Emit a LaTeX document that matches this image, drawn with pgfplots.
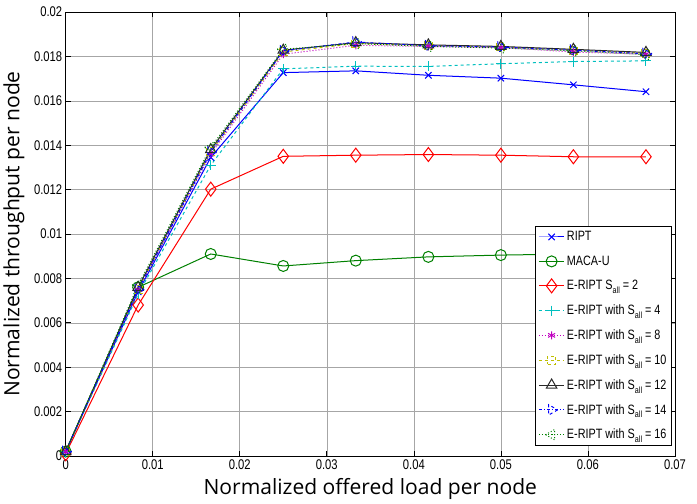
\documentclass[border=0pt]{standalone}
\usepackage{pgfplots}
\pgfplotsset{compat=1.18}
\usepackage{fontspec}
\setmainfont{Open Sans}
\newfontfamily\narrow[FakeStretch=0.8]{Liberation Sans}
\definecolor{mblue}{RGB}{0,0,255}
\definecolor{mgreen}{RGB}{0,128,0}
\definecolor{mred}{RGB}{255,0,0}
\definecolor{mcyan}{RGB}{0,191,191}
\definecolor{mmag}{RGB}{191,0,191}
\definecolor{myel}{RGB}{191,191,0}
\definecolor{mblack}{RGB}{40,40,40}
\newcommand{\sall}{S\raisebox{-0.55ex}{\fontsize{9}{9}\selectfont all}}
\begin{document}
\begin{tikzpicture}
\begin{axis}[
  scale only axis,width=608pt,height=443pt,
  xmin=0,xmax=0.07,ymin=0,ymax=0.02,
  xtick={0,0.01,...,0.07},ytick={0,0.002,...,0.02},
  scaled ticks=false,
  /pgf/number format/fixed,/pgf/number format/precision=3,
  /pgf/number format/assume math mode=true,
  tick label style={font=\narrow\fontsize{14}{16}\selectfont},
  tick align=inside,tick style={black,line width=0.6pt},major tick length=5pt,
  xtick pos=both,ytick pos=both,
  grid=major,grid style={gray!70,line width=0.5pt},
  axis line style={black,line width=0.8pt},
  xlabel={Normalized offered load per node},
  ylabel={Normalized throughput per node},
  label style={font=\fontsize{21}{24}\selectfont},
  xlabel style={at={(axis description cs:0.5,-0.075)},anchor=center},
  ylabel style={at={(axis description cs:-0.085,0.5)},anchor=center},
  legend style={at={(0.995,0.023)},anchor=south east,draw=black,line width=0.8pt,
    fill=white,font=\narrow\fontsize{13.5}{15}\selectfont,
    row sep=9.5pt,inner sep=3pt},
  legend cell align=left,
  legend image code/.code={\draw[mark repeat=2,mark phase=2] plot coordinates {(0cm,0cm)(0.45cm,0cm)(0.9cm,0cm)};},
  every axis plot/.append style={line width=1pt},
]
\addplot[mblue,mark=x,mark size=4.5pt] coordinates {(0,0.0002)(0.00833,0.0074)(0.01667,0.01345)(0.025,0.01727)(0.03333,0.01735)(0.04167,0.01715)(0.05,0.01702)(0.05833,0.01672)(0.06667,0.01641)};
\addplot[mgreen,mark=o,mark size=5.5pt] coordinates {(0,0.0002)(0.00833,0.0076)(0.01667,0.0091)(0.025,0.00856)(0.03333,0.0088)(0.04167,0.00897)(0.05,0.00905)(0.05833,0.0091)(0.06667,0.0092)};
\addplot[mred,mark=diamond,mark size=7pt] coordinates {(0,0.0001)(0.00833,0.0068)(0.01667,0.01202)(0.025,0.0135)(0.03333,0.01355)(0.04167,0.01358)(0.05,0.01355)(0.05833,0.01348)(0.06667,0.01348)};
\addplot[mcyan,dashed,mark=+,mark size=5pt,mark options={solid}] coordinates {(0,0.0002)(0.00833,0.0073)(0.01667,0.0131)(0.025,0.01744)(0.03333,0.01756)(0.04167,0.01755)(0.05,0.01767)(0.05833,0.01777)(0.06667,0.0178)};
\addplot[mmag,dotted,mark=asterisk,mark size=4pt,mark options={solid}] coordinates {(0,0.0002)(0.00833,0.0075)(0.01667,0.0136)(0.025,0.0181)(0.03333,0.0185)(0.04167,0.01845)(0.05,0.0184)(0.05833,0.0182)(0.06667,0.0181)};
\addplot[myel,dashed,mark=square,mark size=4pt,mark options={dashed}] coordinates {(0,0.0002)(0.00833,0.0075)(0.01667,0.0137)(0.025,0.0182)(0.03333,0.01858)(0.04167,0.0185)(0.05,0.01843)(0.05833,0.01828)(0.06667,0.01815)};
\addplot[mblack,mark=triangle,mark size=6pt,mark options={solid}] coordinates {(0,0.0002)(0.00833,0.0076)(0.01667,0.0138)(0.025,0.01828)(0.03333,0.01862)(0.04167,0.01852)(0.05,0.01845)(0.05833,0.01832)(0.06667,0.01818)};
\addplot[mblue,dash dot,mark=triangle,mark size=6pt,mark options={dashed,rotate=-90}] coordinates {(0,0.0002)(0.00833,0.0075)(0.01667,0.0137)(0.025,0.01825)(0.03333,0.01865)(0.04167,0.01848)(0.05,0.01842)(0.05833,0.01828)(0.06667,0.01812)};
\addplot[mgreen,dotted,mark=triangle,mark size=6pt,mark options={dotted,rotate=90}] coordinates {(0,0.0002)(0.00833,0.0077)(0.01667,0.0139)(0.025,0.01832)(0.03333,0.01858)(0.04167,0.01845)(0.05,0.01838)(0.05833,0.01825)(0.06667,0.01808)};
\legend{RIPT,MACA-U,E-RIPT \sall{} = 2,E-RIPT with \sall{} = 4,E-RIPT with \sall{} = 8,E-RIPT with \sall{} = 10,E-RIPT with \sall{} = 12,E-RIPT with \sall{} = 14,E-RIPT with \sall{} = 16}
\coordinate (ne) at (rel axis cs:1,1);
\end{axis}
\path (ne) ++(22pt,12pt) coordinate (pad);
\end{tikzpicture}
\end{document}
